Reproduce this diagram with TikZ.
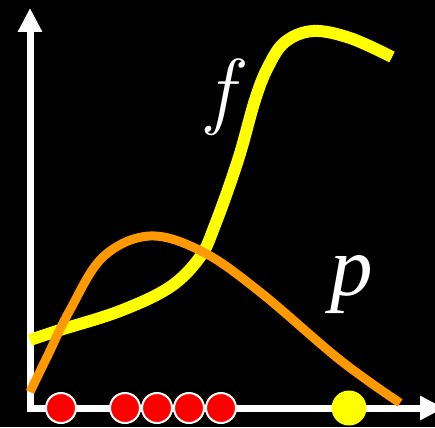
\documentclass[tikz,border=0pt]{standalone}
\usepackage{fontspec}
\setmainfont{Liberation Serif}
\newfontfamily\lmfont{Latin Modern Roman}
\usetikzlibrary{arrows.meta}
\definecolor{curveorange}{RGB}{255,153,0}
\definecolor{curveyellow}{RGB}{255,255,0}
\tikzset{
  axis/.style={white, line width=7pt, line join=miter, {Triangle[length=24pt,width=23pt]}-{Triangle[length=24pt,width=23pt]}},
  fcurve/.style={curveyellow, line width=12pt},
  pcurve/.style={curveorange, line width=9pt},
  sample/.style={circle, fill=red, draw=white, line width=2pt, minimum size=30pt, inner sep=0pt},
  newsample/.style={circle, fill=curveyellow, minimum size=35pt, inner sep=0pt},
  biglabel/.style={white, font=\fontsize{85}{85}\selectfont\itshape, inner sep=0pt}
}
\begin{document}
\begin{tikzpicture}[x=1pt, y=-1pt]
  \fill[black] (0,0) rectangle (435,427);
  \useasboundingbox (0,0) rectangle (435,427);
  \coordinate (top) at (30,8);
  \coordinate (origin) at (30,408);
  \coordinate (right) at (444,408);
  \draw[axis] (top) |- (right);
  \draw[fcurve] plot[smooth, tension=0.6] coordinates {(30,340) (60,330) (120,311) (170,287) (200,257) (215,225) (238,160) (255,100) (268,67) (285,42) (313,31) (350,38) (392,57)};
  \draw[pcurve] plot[smooth, tension=0.6] coordinates {(30,392) (47,357) (70,310) (103,257) (150,236) (203,252) (260,292) (340,360) (400,403)};
  \node[biglabel, anchor=base] (flabel) at (220,119) {\lmfont f};
  \node[biglabel, anchor=base] (plabel) at (352,295) {p};
  \node[sample] (s1) at (61,408) {};
  \node[sample] (s2) at (125,408) {};
  \node[sample] (s3) at (157,408) {};
  \node[sample] (s4) at (189,408) {};
  \node[sample] (s5) at (221,408) {};
  \node[newsample] (snew) at (349,408) {};
\end{tikzpicture}
\end{document}
